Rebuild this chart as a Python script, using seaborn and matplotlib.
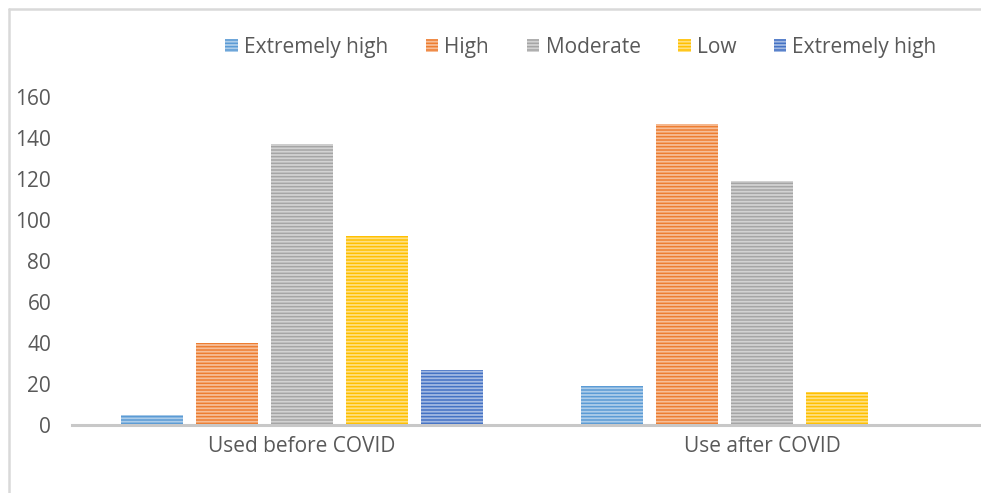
import matplotlib
matplotlib.use("Agg")
import matplotlib.pyplot as plt
from matplotlib.patches import Patch
from matplotlib.lines import Line2D
import matplotlib.colors as mcolors
import seaborn as sns
import pandas as pd

# Survey responses by usage level
periods = ["Used before COVID", "Use after COVID"]
levels = ["Extremely high", "High", "Moderate", "Low", "Extremely high"]
before = [5, 40, 137, 92, 27]
after = [19, 147, 119, 16, 0]
colors = ["#5B9BD5", "#ED7D31", "#A5A5A5", "#FFC000", "#4472C4"]
yticks = [0, 20, 40, 60, 80, 100, 120, 140, 160]

sns.set_theme(style="white")
plt.rcParams["font.family"] = ["Open Sans", "DejaVu Sans"]
plt.rcParams["hatch.linewidth"] = 1.3
text_color = "#595959"
fs = 15

# long table; hue keys are indexed since two levels share a name
keys = [f"s{i}" for i in range(len(levels))]
rows = []
for period, vals in zip(periods, [before, after]):
    for k, v in zip(keys, vals):
        rows.append({"period": period, "series": k, "count": v})
df = pd.DataFrame(rows)

fig = plt.figure(figsize=(9.81, 4.93), dpi=100)
W, H = 981, 493
x0, x1 = 72, 992
y_top, y_bot = 97, 425
ax = fig.add_axes([x0 / W, (H - y_bot) / H, (x1 - x0) / W, (y_bot - y_top) / H])

sns.barplot(data=df, x="period", y="count", hue="series", hue_order=keys,
            order=periods, palette=colors, width=0.815, gap=0.17,
            legend=False, ax=ax, saturation=1)


def tint(c, f):
    r, g, b = mcolors.to_rgb(c)
    return (r + (1 - r) * f, g + (1 - g) * f, b + (1 - b) * f)


for cont, c in zip(ax.containers, colors):
    for bar in cont:
        bar.set_facecolor(c)
        bar.set_edgecolor(tint(c, 0.5))
        bar.set_hatch("-----")
        bar.set_linewidth(0)

ax.set_ylim(0, 160)
ax.set_xlim(-0.5, 1.5)
ax.set_yticks(yticks)
ax.set_yticklabels([str(t) for t in yticks])
ax.set_xlabel("")
ax.set_ylabel("")
ax.tick_params(axis="y", length=0, pad=15, labelsize=fs, labelcolor=text_color)
ax.tick_params(axis="x", length=0, pad=8, labelsize=fs, labelcolor=text_color)
for s in ["left", "right", "top"]:
    ax.spines[s].set_visible(False)
ax.spines["bottom"].set_color("#C8C8C8")
ax.spines["bottom"].set_linewidth(2.2)
ax.set_facecolor("none")

# legend
handles = [Patch(facecolor=c, edgecolor=tint(c, 0.5), hatch="-----", linewidth=0)
           for c in colors]
fig.legend(handles, levels, loc="center", bbox_to_anchor=(581 / W, 1 - 47.5 / H),
           ncol=5, frameon=False, fontsize=fs, labelcolor=text_color,
           handlelength=0.6, handleheight=0.6, handletextpad=0.3,
           columnspacing=1.8)

# outer chart frame
fig.add_artist(Line2D([8.5 / W, 8.5 / W], [0, 1 - 8.5 / H], transform=fig.transFigure,
                      color="#D9D9D9", linewidth=1.8))
fig.add_artist(Line2D([8.5 / W, 1], [1 - 8.5 / H, 1 - 8.5 / H], transform=fig.transFigure,
                      color="#D9D9D9", linewidth=1.8))

fig.savefig("out.png", dpi=100)
